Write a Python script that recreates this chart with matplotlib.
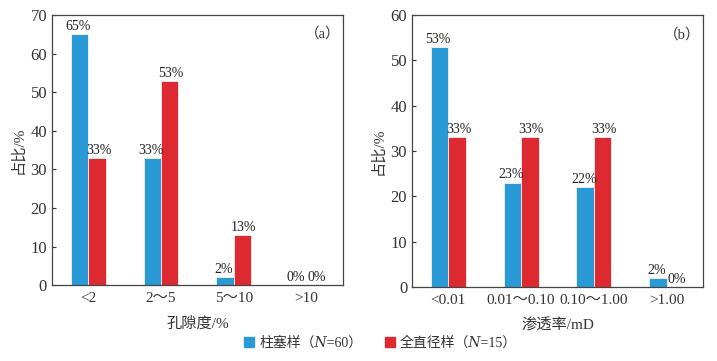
import numpy as np
import matplotlib.pyplot as plt
from matplotlib.patches import Patch

plt.rcParams['font.family'] = ['Liberation Serif', 'Noto Sans CJK SC', 'DejaVu Serif', 'DejaVu Sans']
plt.rcParams['font.size'] = 10

## data
por_cats = ['<2', '2～5', '5～10', '>10']
por_plug = [65, 33, 2, 0]
por_full = [33, 53, 13, 0]

perm_cats = ['<0.01', '0.01～0.10', '0.10～1.00', '>1.00']
perm_plug = [53, 23, 22, 2]
perm_full = [33, 33, 33, 0]

col_plug = '#2a9ad6'
col_full = '#dc2a30'

fig = plt.figure(figsize=(7.17, 3.61), dpi=100)
ax1 = fig.add_axes([0.0725, 0.21, 0.4055, 0.748])
ax2 = fig.add_axes([0.5746, 0.205, 0.4059, 0.753])

def draw(ax, cats, plug, full, ymax, xl, tag):
    x = np.arange(len(cats))
    bw = 0.24
    ax.bar(x - bw/2, plug, bw, color=col_plug, edgecolor='white', lw=0.5)
    ax.bar(x + bw/2, full, bw, color=col_full, edgecolor='white', lw=0.5)
    for xi, v in zip(x, plug):
        ax.text(xi - bw/2 - 0.02, v + 0.3, '%d%%' % v, ha='center', va='bottom', fontsize=10, color='#222222')
    for xi, v in zip(x, full):
        ax.text(xi + bw/2 + 0.02, v + 0.3, '%d%%' % v, ha='center', va='bottom', fontsize=10, color='#222222')
    ax.set_xlim(-0.5, len(cats) - 0.5)
    ax.set_ylim(0, ymax)
    ax.set_yticks(np.arange(0, ymax + 1, 10))
    ax.set_xticks(x)
    ax.set_xticklabels(cats)
    ax.tick_params(axis='y', direction='in', length=3, labelsize=12, colors='#333333')
    ax.tick_params(axis='x', length=0, pad=5, labelsize=11, colors='#333333')
    for s in ax.spines.values():
        s.set_color('#444444')
        s.set_linewidth(0.9)
    ax.set_ylabel('占比/%', fontsize=11, color='#333333', labelpad=4)
    ax.set_xlabel(xl, fontsize=11, color='#333333', labelpad=8)
    ax.text(0.93, 0.93, tag, transform=ax.transAxes, ha='center', va='center', fontsize=10.5, color='#333333')

draw(ax1, por_cats, por_plug, por_full, 70, '孔隙度/%', '（a）')
draw(ax2, perm_cats, perm_plug, perm_full, 60, '渗透率/mD', '（b）')

handles = [Patch(color=col_plug), Patch(color=col_full)]
labels = ['柱塞样（\U0001D441=60）', '全直径样（\U0001D441=15）']
fig.legend(handles, labels, loc='center', bbox_to_anchor=(0.531, 0.05), ncol=2, frameon=False,
           fontsize=10, handlelength=0.7, handleheight=0.7, handletextpad=0.4, columnspacing=1.6,
           labelcolor='#333333')

fig.savefig('out.png', dpi=100)
